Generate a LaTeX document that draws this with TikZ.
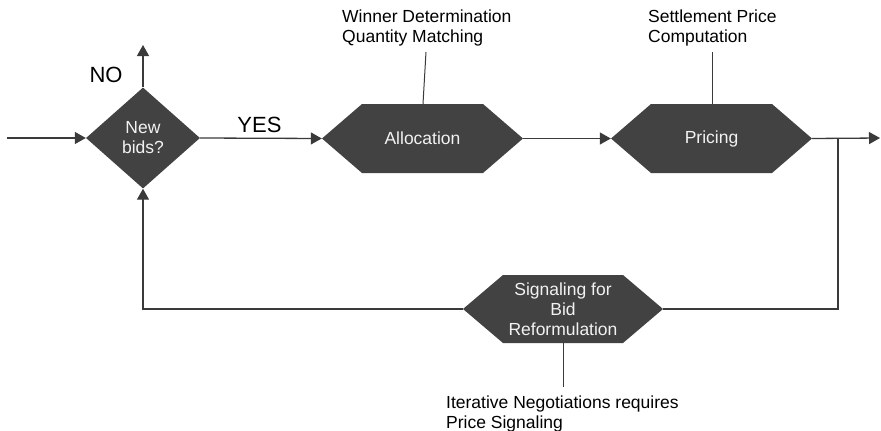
\documentclass[tikz,border=0pt]{standalone}
\usepackage{fontspec}
\setmainfont{Liberation Sans}
\usetikzlibrary{arrows.meta,shapes.geometric}
\definecolor{shapegray}{HTML}{424242}
\definecolor{linegray}{HTML}{3A3A3A}
\definecolor{textlight}{HTML}{F2F2F2}
\tikzset{
  flow/.style={draw=linegray, line width=1.3pt},
  arrowflow/.style={flow, -{Triangle[length=11pt,width=12pt]}},
  decision/.style={diamond, fill=shapegray, minimum width=114pt, minimum height=101pt,
    inner sep=0pt, align=center, text=textlight, font=\fontsize{17.5}{20}\selectfont},
  hexbox/.style={rectangle, minimum width=#1, minimum height=69pt, inner sep=0pt,
    align=center, text=textlight, font=\fontsize{17.5}{20}\selectfont,
    path picture={\fill[shapegray]
      (path picture bounding box.west)
      -- ([xshift=40pt]path picture bounding box.north west)
      -- ([xshift=-40pt]path picture bounding box.north east)
      -- (path picture bounding box.east)
      -- ([xshift=-40pt]path picture bounding box.south east)
      -- ([xshift=40pt]path picture bounding box.south west) -- cycle;}},
  note/.style={anchor=north west, inner sep=0pt, align=left, text=black,
    font=\fontsize{17.5}{20}\selectfont},
  answer/.style={inner sep=0pt, text=black, font=\fontsize{22}{24}\selectfont},
}
\begin{document}
\begin{tikzpicture}[x=1pt,y=-1pt]
\useasboundingbox (0,0) rectangle (881,431);

% decision and process steps
\node[decision] (newbids) at (143,138) {New\\bids?};
\node[hexbox=201pt] (alloc) at (422.5,138.5) {Allocation};
\node[hexbox=201pt] (pricing) at (711.5,138.5) {Pricing};
\node[hexbox=200pt, minimum height=68pt] (signal) at (563,309) {Signaling for\\Bid\\Reformulation};

% annotations
\node[note] (allocnote) at (342,10) {Winner Determination\\Quantity Matching};
\node[note] (pricenote) at (648,10) {Settlement Price\\Computation};
\node[note] (signalnote) at (446,396) {Iterative Negotiations requires\\Price Signaling};
\node[answer] (no) at (106,75) {NO};
\node[answer] (yes) at (259.5,124.5) {YES};

% free ends of the main line
\coordinate (start) at (7,138);
\coordinate (exitup) at (143,45);
\coordinate (finish) at (880,138);
\coordinate (branch) at (838,138);
\coordinate (corner) at (838,309);
\coordinate (backcorner) at (143,309);
\coordinate (allocleader) at (426,52);
\coordinate (priceleader) at (712,52);
\coordinate (signalleader) at (563,387);

% connectors
\draw[arrowflow] (start) -- (newbids.west);
\draw[arrowflow] (newbids.north) -- (exitup);
\draw[arrowflow] (newbids.east) -- (alloc.west);
\draw[arrowflow] (alloc.east) -- (pricing.west);
\draw[arrowflow] (pricing.east) -- (finish);
\draw[flow] (branch) -- (corner) -- (signal.east);
\draw[arrowflow] (signal.west) -- (backcorner) -- (newbids.south);

% leader lines to the annotations
\draw[flow, line width=1pt] ([xshift=0.5pt]alloc.north) -- (allocleader);
\draw[flow, line width=1pt] ([xshift=0.5pt]pricing.north) -- (priceleader);
\draw[flow, line width=1pt] (signal.south) -- (signalleader);
\end{tikzpicture}
\end{document}
